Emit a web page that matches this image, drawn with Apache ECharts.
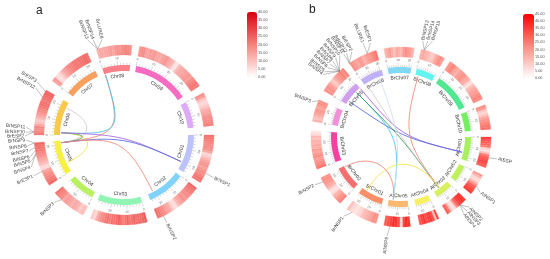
<!DOCTYPE html>
<html><head><meta charset="utf-8">
<style>html,body{margin:0;padding:0;background:#fff}#c{width:550px;height:259px}</style>
<script src="https://cdn.jsdelivr.net/npm/echarts@6/dist/echarts.min.js"></script>
</head><body><div id="c"></div>
<script>
/* ---------- panel a ---------- */
const namesA = ['Chr08','Chr09','Chr10','Chr01','Chr02','Chr03','Chr04','Chr05','Chr06','Chr07'];
const startA = [342,10,62,90,126,165,207,236,270,307];
const spanA  = [23,47,22,32,32,37,23,29,30,29];
const colorA = ['#f97f88','#f56cc0','#dcaaf6','#bcc2fa','#80d2fa','#90f5b2','#b8f060','#f8f040','#fbc94a','#f8a05e'];
const heatA = [
 [12,14,13,14,14,15,16,14,16,18,17,18,18,19,19,18],
 [16,18,18,15,14,16,15,17,14,14,13,15,16,17,14,13,11,5,4,10,13,14,14,15,16,17,15,18,19,21,22,21],
 [18,16,10,7,6,8,10,13,14,15,17,18,18,19,20],
 [22,22,20,19,18,18,17,14,6,8,11,14,16,17,15,16,18,18,20,22,21],
 [24,22,21,20,18,18,16,18,15,14,11,6,5,8,13,14,16,18,19,21,22],
 [26,24,22,23,22,24,22,21,24,22,20,22,25,23,21,22,20,22,21,19,18,16,12,6,8],
 [10,10,8,11,13,14,12,14,15,16,14,18,19,20,22],
 [24,22,21,19,18,16,14,6,6,10,12,14,16,18,19,21,22,22,24],
 [21,19,18,19,14,10,8,11,14,16,18,19,21,22,22,21,22,23,24,24],
 [14,16,6,5,7,11,14,16,18,19,20,21,22,21,22,22,23,24,22]
];
/* name, gene angle, text angle, text radius */
const genesA = [
 ['BrNSP13',343,339,103],['BrNSP14',343,342,101],['BrLURE8',343,347,99],
 ['BrESP3',299,301.5,103],['BrNSP12',295,298,101],
 ['BrNSP11',272,274.6,99],['BrNSP10',272,271.7,99],['BrESP2',272,269.4,100],
 ['BrNSP9',265,267,99],['BrNSP8',265,263.5,98],['BrNSP7',262,260.5,97],['BrNSP6',260,257,97],
 ['BrNSP5',258,254.4,97],['BrNSP4',258,251,99],['BrESP1',246,245.7,100],
 ['BrNSP3',224,226,98],['BrNSP1',115,115.5,100],['BrNSP2',154,154,99]
];
/* from angle, to angle, control-point share of the radius */
const linksA = [[342.7,263,.08],[343,272,.05],[295,263,.5],[244,272,.48],[263,272,.55],[272,115,.05],[263,115,.1],[263,153,.1]];
const linkColorA = ['#f08c7c','#4cc4f0','#d8c6dc','#f6e24c','#5aa85a','#aa6ce2','#5f70e2','#f08c7c'];
const barTicksA = [0,5,10,15,20,25,30,35,40];

/* ---------- panel b ---------- */
const namesB = ['BrChr07','BrChr08','BrChr09','BrChr10','AtChr01','AtChr02','AtChr03','AtChr04','AtChr05','BrChr01','BrChr02','BrChr03','BrChr04','BrChr05','BrChr06'];
const startB = [349,13,33,69,90,115,134,155,174,196,222.5,249,280,301,325];
const spanB  = [19.5,16,32,16,20,14,15,13,17,21,20.5,25,14.5,19,19];
const colorB = ['#80d8f5','#62f5f0','#52e892','#72f062','#a8f060','#c0f060','#d8f060','#f8f060','#fbb870','#f88f68','#f4706f','#f840a0','#f090d8','#d0a0f0','#c0b0f8'];
const heatB = [
 [14,17,19,15,12,17,15,14,19,22,20,19,15],
 [15,17,15,14,12,10,12,17,20,22,19],
 [20,22,24,20,17,15,19,20,22,19,17,15,8,5,12,15,17,19,20,22,24,22],
 [22,19,10,8,12,17,20,22,24,26,27],
 [34,32,30,28,25,8,5,12,25,30,32,34,32,30],
 [20,14,8,7,12,22,29,32,34,36],
 [36,38,36,34,30,22,7,5,12,25,30],
 [34,12,32,36,34,32,36,34,30],
 [36,38,34,7,32,36,38,34,32,30],
 [20,22,19,17,15,14,12,8,7,5,7,8,12],
 [24,22,20,17,14,7,5,8,14,17,19,20,22,20],
 [26,24,22,20,19,22,20,17,19,15,17,14,15,12,14,7,5],
 [15,12,14,17,19,20,17,19,22,20],
 [22,20,22,19,17,12,10,15,19,20,22,24,22,24],
 [22,20,19,17,20,19,15,17,19,20,22,24,26]
];
const genesB = [
 ['BrNSP4',317,308.6,101],['BrNSP5',317,310.6,101.4],['BrNSP6',317,313.4,102],['BrNSP7',317,315.8,103],
 ['BrNSP8',317,318,103],['BrNSP9',317,320.5,103.7],['BrNSP10',317,323,102.8],
 ['BrNSP11',325,325.4,102],['BrNSP12',325,327,101],['BrESP2',325,330,99.5],
 ['BrLURE1',338,338,102],['BrESP1',338,342,100],['BrNSP3',293.8,291.5,97],
 ['BrNSP13',15,12.8,99.5],['BrNSP14',15,15.6,100.7],['BrNSP15',15,18.2,102],
 ['AtESP',103.4,102.8,99.5],['AtNSP1',123,125,97.7],
 ['AtNSP2',139,135.8,99],['AtNSP3',139,138.2,100.6],['AtNSP4',139,140.7,99.5],
 ['AtNSP5',187,188,101],['BrNSP1',213,216,99],['BrNSP2',240,241,99.4]
];
const linksB = [[320,104,.03],[304.5,104,.03],[315,187,.05],[315,143.6,.0],[327,143,.0],[340,187,.05],[15.7,143,.1],[143,212.7,.37],[187,242,.5]];
const linkColorB = ['#a864e0','#5a6ee0','#48c8f0','#3f9a5c','#d2ccd2','#cfe0f4','#f0907e','#f8e24a','#f08c7c'];
const barTicksB = [0,5,10,15,20,25,30,35,40,45];

const degPerUnitA = 1.27, degPerUnitB = 0.87;
const R = {linkEnd:63,band0:64,band1:70,tick:72.2,tickMajor:74,tickText:77,name:59,heat0:80,heat1:90};

function arc(api,a0,a1,r0,r1){
  const pts=[],n=Math.max(1,Math.ceil(Math.abs(a1-a0)/2));
  for(let i=0;i<=n;i++)pts.push(api.coord([r1,a0+(a1-a0)*i/n]).slice(0,2));
  for(let i=n;i>=0;i--)pts.push(api.coord([r0,a0+(a1-a0)*i/n]).slice(0,2));
  return pts;
}
function textEl(api,r,ang,str,rot,size,fill,align){
  const p=api.coord([r,ang]);
  return {type:'text',x:p[0],y:p[1],rotation:-rot*Math.PI/180,
    style:{x:0,y:0,text:str,fill:fill,font:size+'px "Liberation Sans",Arial,sans-serif',align:align||'center',verticalAlign:'middle'}};
}
function panelSeries(idx,names,start,span,color,heat,genes,links,linkColor,perUnit){
  const heatRows=[];
  heat.forEach((vals,c)=>{const w=span[c]/vals.length;vals.forEach((v,i)=>heatRows.push([start[c]+i*w,start[c]+(i+1)*w,v]));});
  const base={type:'custom',coordinateSystem:'polar',polarIndex:idx,silent:true,animation:false};
  return [
   Object.assign({},base,{name:'heat'+idx,data:heatRows,renderItem:(p,api)=>{
     const fill=api.visual('color');
     return {type:'polygon',shape:{points:arc(api,api.value(0),api.value(1),R.heat0,R.heat1)},style:{fill:fill,stroke:fill,lineWidth:.3}};
   }}),
   Object.assign({},base,{name:'band'+idx,data:start.map((s,i)=>[s,s+span[i]]),renderItem:(p,api)=>{
     const i=p.dataIndex,a0=api.value(0),a1=api.value(1),kids=[
       {type:'polygon',shape:{points:arc(api,a0,a1,R.band0,R.band1)},style:{fill:color[i]}}];
     const mid=(a0+a1)/2,m=((mid%360)+360)%360,rot=(m>90&&m<270)?m-180:(m>=270?m-360:m);
     kids.push(textEl(api,R.name,mid,names[i],rot,5,'#333'));
     const st=2,len=(a1-a0)/perUnit;
     for(let u=0;u<=len;u+=st){
       const a=a0+u*perUnit,major=u%10===0;
       const q0=api.coord([R.band1,a]),q1=api.coord([major?R.tickMajor:R.tick,a]);
       kids.push({type:'line',shape:{x1:q0[0],y1:q0[1],x2:q1[0],y2:q1[1]},style:{stroke:'#999',lineWidth:.4}});
       if(major)kids.push(textEl(api,R.tickText,a,String(u),rot,3.2,'#666'));
     }
     return {type:'group',children:kids};
   }}),
   Object.assign({},base,{name:'link'+idx,data:links,renderItem:(p,api)=>{
     const a=api.value(0),b=api.value(1),k=api.value(2);
     const P=api.coord([R.linkEnd,a]),Q=api.coord([R.linkEnd,b]),c1=api.coord([R.linkEnd*k,a]),c2=api.coord([R.linkEnd*k,b]);
     return {type:'bezierCurve',shape:{x1:P[0],y1:P[1],x2:Q[0],y2:Q[1],cpx1:c1[0],cpy1:c1[1],cpx2:c2[0],cpy2:c2[1]},
       style:{fill:null,stroke:linkColor[p.dataIndex],lineWidth:.9}};
   }}),
   Object.assign({},base,{name:'gene'+idx,data:genes.map(g=>[g[1],g[2],g[3]]),renderItem:(p,api)=>{
     const g=api.value(0),t=api.value(1),r=api.value(2),q0=api.coord([R.heat1,g]),q1=api.coord([r-1,t]);
     const m=((t%360)+360)%360,right=m<180,rot=right?m-90:m-270;
     return {type:'group',children:[
       {type:'line',shape:{x1:q0[0],y1:q0[1],x2:q1[0],y2:q1[1]},style:{stroke:'#777',lineWidth:.45}},
       textEl(api,r,t,genes[p.dataIndex][0],rot,4.8,'#444',right?'left':'right')]};
   }})
  ];
}
const sA=panelSeries(0,namesA,startA,spanA,colorA,heatA,genesA,linksA,linkColorA,degPerUnitA);
const sB=panelSeries(1,namesB,startB,spanB,colorB,heatB,genesB,linksB,linkColorB,degPerUnitB);
const hidden={show:false};
const angleAxisBase=Object.assign({min:0,max:360,startAngle:90,clockwise:true,type:'value'},hidden);
const radiusAxisBase=Object.assign({min:0,max:100,type:'value'},hidden);
const barLabel={fontSize:3.8,color:'#555',margin:1,formatter:v=>v.toFixed(2),fontFamily:'Liberation Sans'};
function barAxis(i,maxV,ticks){return {type:'value',gridIndex:i,position:'right',min:0,max:maxV,interval:ticks[1]-ticks[0],
  axisLine:hidden,axisTick:hidden,splitLine:hidden,axisLabel:barLabel};}
const chart=echarts.init(document.getElementById('c'),null,{renderer:'canvas'});
chart.setOption({
  animation:false,backgroundColor:'#fff',
  polar:[{center:[124,135],radius:100},{center:[401,137],radius:100}],
  angleAxis:[Object.assign({polarIndex:0},angleAxisBase),Object.assign({polarIndex:1},angleAxisBase)],
  radiusAxis:[Object.assign({polarIndex:0},radiusAxisBase),Object.assign({polarIndex:1},radiusAxisBase)],
  grid:[{left:247,top:12,width:10,height:65,show:false},{left:523,top:14,width:11,height:64,show:false}],
  xAxis:[{gridIndex:0,show:false,type:'value'},{gridIndex:1,show:false,type:'value'}],
  yAxis:[barAxis(0,40,barTicksA),barAxis(1,45,barTicksB)],
  visualMap:[
   {type:'continuous',seriesIndex:0,dimension:2,min:0,max:40,left:247,top:12,padding:0,itemWidth:10,itemHeight:65,calculable:false,realtime:false,
    inRange:{color:['#ffffff','#f6807a','#d9000f']},showLabel:false},
   {type:'continuous',seriesIndex:4,dimension:2,min:0,max:45,left:523,top:14,padding:0,itemWidth:11,itemHeight:64,calculable:false,realtime:false,
    inRange:{color:['#ffffff','#fb8a80','#ff0000']},showLabel:false}
  ],
  graphic:[
    {type:'text',left:36,top:5,style:{text:'a',font:'12px "Liberation Sans",Arial,sans-serif',fill:'#222'}},
    {type:'text',left:309,top:4,style:{text:'b',font:'12px "Liberation Sans",Arial,sans-serif',fill:'#222'}}
  ],
  series:sA.concat(sB)
});
</script></body></html>
